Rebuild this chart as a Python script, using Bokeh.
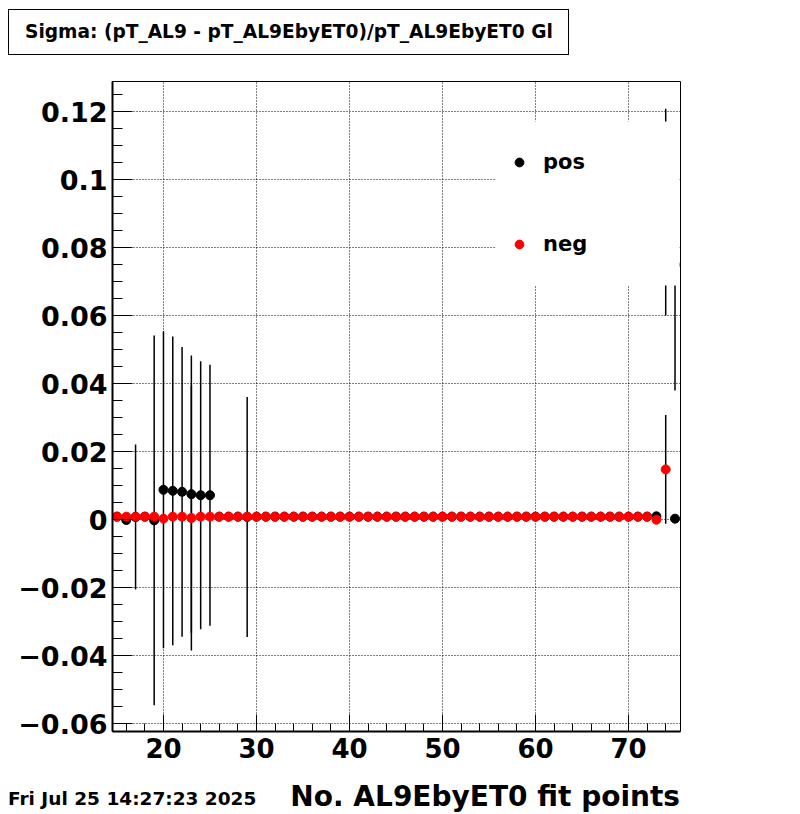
import numpy as np
from bokeh.plotting import figure
from bokeh.layouts import column
from bokeh.models import (ColumnDataSource, Range1d, FixedTicker, SingleIntervalTicker,
                          CustomJSTickFormatter, Div, BoxAnnotation, Legend, LegendItem)
from bokeh.embed import file_html
from bokeh.resources import INLINE

# ---------------- data ----------------
TITLE = "Sigma: (pT_AL9 - pT_AL9EbyET0)/pT_AL9EbyET0 Gl"
X_TITLE = "No. AL9EbyET0 fit points"
DATE = "Fri Jul 25 14:27:23 2025"
LEGEND_LABELS = ["pos", "neg"]

x_pos = [15, 16, 17, 18, 19, 20, 21, 22, 23, 24, 25, 26, 27, 28, 29, 30, 31, 32, 33, 34,
         35, 36, 37, 38, 39, 40, 41, 42, 43, 44, 45, 46, 47, 48, 49, 50, 51, 52, 53, 54,
         55, 56, 57, 58, 59, 60, 61, 62, 63, 64, 65, 66, 67, 68, 69, 70, 71, 72, 73, 74, 75]
y_pos = [0.0009, -0.0001, 0.0008, 0.0009, -0.0002, 0.0088, 0.0085, 0.0082, 0.0075, 0.0072,
         0.0072, 0.0009, 0.0009, 0.0009, 0.0008, 0.0009, 0.0009, 0.0009, 0.0009, 0.0009,
         0.0009, 0.0009, 0.0009, 0.0009, 0.0009, 0.0009, 0.0009, 0.0009, 0.0009, 0.0009,
         0.0009, 0.0009, 0.0009, 0.0009, 0.0009, 0.0009, 0.0009, 0.0009, 0.0009, 0.0009,
         0.0009, 0.0009, 0.0009, 0.0009, 0.0009, 0.0009, 0.0009, 0.0009, 0.0009, 0.0009,
         0.0009, 0.0009, 0.0009, 0.0009, 0.0009, 0.0009, 0.0009, 0.0009, 0.0010, 0.0905, 0.0003]
e_pos = [0.0, 0.0, 0.0213, 0.0, 0.0544, 0.0466, 0.0454, 0.0426, 0.0408, 0.0394,
         0.0384, 0.0, 0.0, 0.0, 0.0353, 0.0, 0.0, 0.0, 0.0, 0.0,
         0.0, 0.0, 0.0, 0.0, 0.0, 0.0, 0.0, 0.0, 0.0, 0.0,
         0.0, 0.0, 0.0, 0.0, 0.0, 0.0, 0.0, 0.0, 0.0, 0.0,
         0.0, 0.0, 0.0, 0.0, 0.0, 0.0, 0.0, 0.0, 0.0, 0.0,
         0.0, 0.0, 0.0, 0.0, 0.0, 0.0, 0.0, 0.0, 0.0, 0.0304, 0.0]

x_neg = [15, 16, 17, 18, 19, 20, 21, 22, 23, 24, 25, 26, 27, 28, 29, 30, 31, 32, 33, 34,
         35, 36, 37, 38, 39, 40, 41, 42, 43, 44, 45, 46, 47, 48, 49, 50, 51, 52, 53, 54,
         55, 56, 57, 58, 59, 60, 61, 62, 63, 64, 65, 66, 67, 68, 69, 70, 71, 72, 73, 74, 75]
y_neg = [0.0009, 0.0009, 0.0009, 0.0009, 0.0009, 0.0003, 0.0009, 0.0009, 0.0005, 0.0009,
         0.0009, 0.0009, 0.0009, 0.0009, 0.0009, 0.0009, 0.0009, 0.0009, 0.0009, 0.0009,
         0.0009, 0.0009, 0.0009, 0.0009, 0.0009, 0.0009, 0.0009, 0.0009, 0.0009, 0.0009,
         0.0009, 0.0009, 0.0009, 0.0009, 0.0009, 0.0009, 0.0009, 0.0009, 0.0009, 0.0009,
         0.0009, 0.0009, 0.0009, 0.0009, 0.0009, 0.0009, 0.0009, 0.0009, 0.0009, 0.0009,
         0.0009, 0.0009, 0.0009, 0.0009, 0.0009, 0.0009, 0.0009, 0.0009, 0.0000, 0.0148, 0.0750]
e_neg = [0.0, 0.0, 0.0, 0.0, 0.0, 0.0, 0.0, 0.0, 0.039, 0.0,
         0.0, 0.0, 0.0, 0.0, 0.0, 0.0, 0.0, 0.0, 0.0, 0.0,
         0.0, 0.0, 0.0, 0.0, 0.0, 0.0, 0.0, 0.0, 0.0, 0.0,
         0.0, 0.0, 0.0, 0.0, 0.0, 0.0, 0.0, 0.0, 0.0, 0.0,
         0.0, 0.0, 0.0, 0.0, 0.0, 0.0, 0.0, 0.0, 0.0, 0.0,
         0.0, 0.0, 0.0, 0.0, 0.0, 0.0, 0.0, 0.0, 0.0, 0.016, 0.037]

y_ticks = [-0.06, -0.04, -0.02, 0.0, 0.02, 0.04, 0.06, 0.08, 0.10, 0.12]
y_tick_labels = ["\u22120.06", "\u22120.04", "\u22120.02", "0", "0.02", "0.04",
                 "0.06", "0.08", "0.1", "0.12"]
x_tick_interval = 10

X_RANGE = (14.52, 75.59)
Y_RANGE = (-0.0623, 0.1289)

# ---------------- layout (page pixels) ----------------
W = 800
TOP_H = 79
BOT_Y = 776
BOT_H = 38
FL, FR, FT, FB = 112, 680, 81, 731   # frame edges on the page
FONT = "DejaVu Sans"


def px_x(px):
    return X_RANGE[0] + (px - FL) * (X_RANGE[1] - X_RANGE[0]) / (FR - FL)


def px_y(py):
    return Y_RANGE[1] - (py - FT) * (Y_RANGE[1] - Y_RANGE[0]) / (FB - FT)


# ---- top strip: title box ----
top_html = (
    f'<div style="position:relative;width:{W}px;height:{TOP_H}px;'
    f'font-family:\'{FONT}\';font-weight:bold;color:black;">'
    f'<div style="position:absolute;left:8px;top:9px;width:561px;height:46px;'
    f'box-sizing:border-box;border:1px solid black;background:white;'
    f'padding-left:16px;line-height:44px;font-size:18.6px;white-space:nowrap;">'
    f'{TITLE}</div></div>'
)
top = Div(text=top_html, width=W, height=TOP_H, margin=0)

# ---- main plot ----
main_h = BOT_Y - TOP_H
p = figure(width=W, height=main_h, output_backend="svg", toolbar_location=None,
           x_range=Range1d(*X_RANGE), y_range=Range1d(*Y_RANGE),
           min_border_left=FL, min_border_right=W - FR,
           min_border_top=FT - TOP_H, min_border_bottom=BOT_Y - FB)
p.background_fill_color = "white"
p.border_fill_color = "white"
p.outline_line_color = "black"
p.outline_line_width = 1

p.xaxis.ticker = SingleIntervalTicker(interval=x_tick_interval, num_minor_ticks=5)
minor_y = [round(v, 4) for v in np.arange(-0.06, 0.1251, 0.005)]
p.yaxis.ticker = FixedTicker(ticks=y_ticks, minor_ticks=minor_y)
p.yaxis.formatter = CustomJSTickFormatter(args=dict(yt=y_ticks, yl=y_tick_labels), code="""
    let best = 0, bd = 1e9;
    for (let i = 0; i < yt.length; i++) {
        const d = Math.abs(yt[i] - tick);
        if (d < bd) { bd = d; best = i; }
    }
    return yl[best];
""")
for ax in (p.xaxis, p.yaxis):
    ax.axis_line_color = "black"
    ax.axis_line_width = 2
    ax.major_tick_line_color = "black"
    ax.minor_tick_line_color = "black"
    ax.major_tick_out = 0
    ax.minor_tick_out = 0
    ax.major_label_text_font = FONT
    ax.major_label_text_font_style = "bold"
    ax.major_label_text_color = "black"
p.xaxis.major_label_text_font_size = "26px"
p.yaxis.major_label_text_font_size = "27px"
p.yaxis.major_tick_in = 20
p.yaxis.minor_tick_in = 10
p.xaxis.major_tick_in = 17
p.xaxis.minor_tick_in = 8
p.yaxis.major_label_standoff = 5
p.xaxis.major_label_standoff = 6

for g in (p.xgrid, p.ygrid):
    g.grid_line_color = "black"
    g.grid_line_dash = "1 2"
    g.grid_line_width = 1

pos = ColumnDataSource(dict(x=x_pos, y=y_pos,
                            lo=[a - b for a, b in zip(y_pos, e_pos)],
                            hi=[a + b for a, b in zip(y_pos, e_pos)]))
neg = ColumnDataSource(dict(x=x_neg, y=y_neg,
                            lo=[a - b for a, b in zip(y_neg, e_neg)],
                            hi=[a + b for a, b in zip(y_neg, e_neg)]))

p.segment(x0="x", y0="lo", x1="x", y1="hi", source=pos, line_color="black", line_width=1.5)
r_pos = p.scatter("x", "y", source=pos, size=9, marker="circle",
                  fill_color="black", line_color="black")
p.segment(x0="x", y0="lo", x1="x", y1="hi", source=neg, line_color="black", line_width=1.5)
r_neg = p.scatter("x", "y", source=neg, size=9, marker="circle",
                  fill_color="#ff0000", line_color="#ff0000")

# legend: white box + entries
p.add_layout(BoxAnnotation(left=px_x(495), right=px_x(679), top=px_y(121), bottom=px_y(285),
                           fill_color="white", fill_alpha=1.0, line_color=None))
legend = Legend(items=[LegendItem(label=LEGEND_LABELS[0], renderers=[r_pos]),
                       LegendItem(label=LEGEND_LABELS[1], renderers=[r_neg])],
                location=(396, 474), orientation="vertical", padding=0, margin=0,
                spacing=56, glyph_width=22, glyph_height=26, label_height=26,
                label_standoff=13, background_fill_alpha=0.0, border_line_color=None,
                label_text_font=FONT, label_text_font_style="bold",
                label_text_font_size="21px", label_text_color="black",
                label_text_baseline="middle")
p.add_layout(legend)

# ---- bottom strip: date + axis title ----
bottom_html = (
    f'<div style="position:relative;width:{W}px;height:{BOT_H}px;'
    f'font-family:\'{FONT}\';font-weight:bold;color:black;">'
    f'<span style="position:absolute;left:8px;top:14px;font-size:18.5px;line-height:1;'
    f'white-space:nowrap;">{DATE}</span>'
    f'<span style="position:absolute;right:{W - FR}px;top:7px;font-size:28px;line-height:1;'
    f'white-space:nowrap;">{X_TITLE}</span></div>'
)
bottom = Div(text=bottom_html, width=W, height=BOT_H, margin=0)

layout = column(top, p, bottom, spacing=0)
open("out.html", "w").write(file_html(layout, INLINE))
